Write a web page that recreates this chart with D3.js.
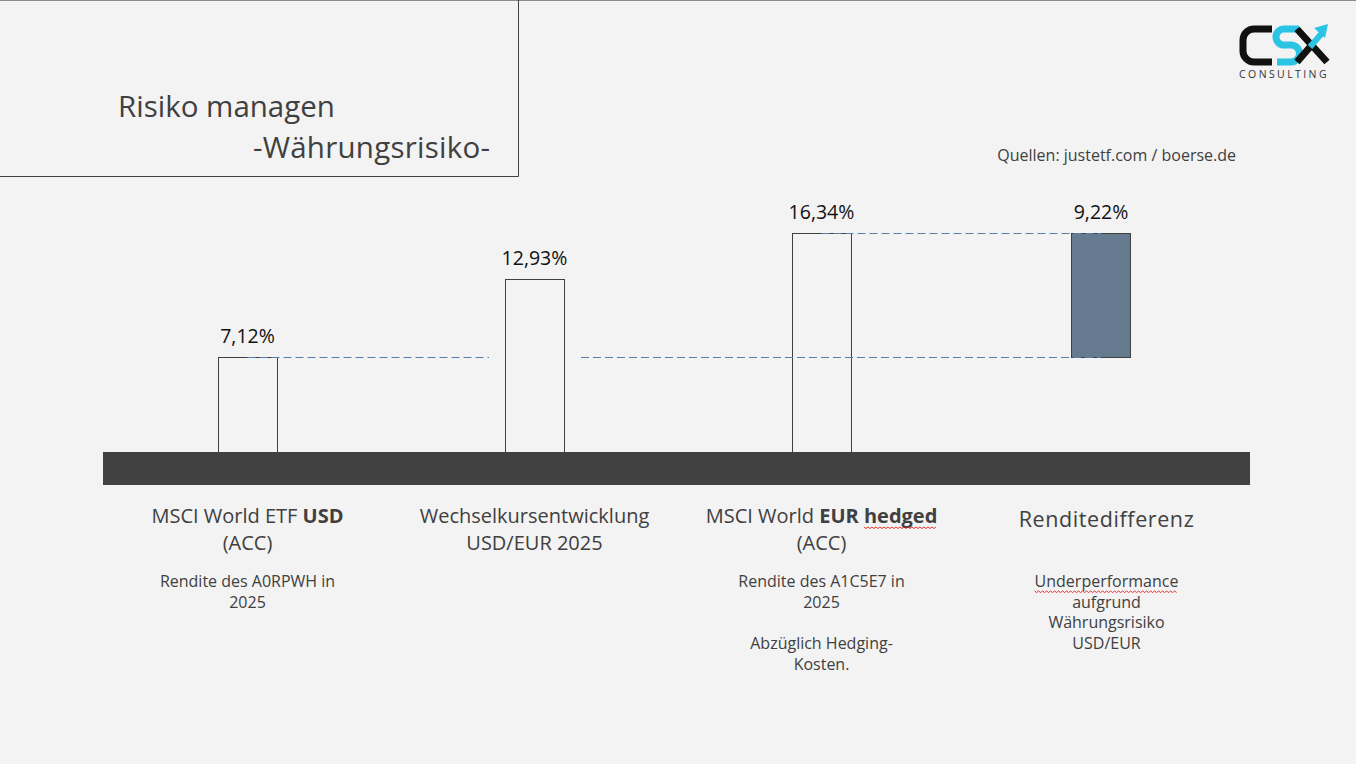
<!DOCTYPE html>
<html>
<head>
<meta charset="utf-8">
<script src="https://cdn.jsdelivr.net/npm/d3@7"></script>
<style>
  body { margin: 0; background: #f3f3f3; }
  svg { display: block; font-family: "Open Sans", "Noto Sans", sans-serif; }
</style>
</head>
<body>
<svg width="1356" height="764"></svg>
<script>
// values in percent
var categories = ["usd", "fx", "hedged", "diff"];
var values = [7.12, 12.93, 16.34];
var diffValue = 9.22;
var valueLabels = ["7,12%", "12,93%", "16,34%", "9,22%"];

// main label lines, each line a list of [text, bold]
var mainLabels = [
  [[["MSCI World ETF ", false], ["USD", true]], [["(ACC)", false]]],
  [[["Wechselkursentwicklung", false]], [["USD/EUR 2025", false]]],
  [[["MSCI World ", false], ["EUR", true], [" ", false], ["hedged", true]], [["(ACC)", false]]],
  [[["Renditedifferenz", false]]]
];
var subLabels = [
  ["Rendite des A0RPWH in", "2025"],
  [],
  ["Rendite des A1C5E7 in", "2025", "", "Abzüglich Hedging-", "Kosten."],
  ["Underperformance", "aufgrund", "Währungsrisiko", "USD/EUR"]
];
// words with spell-check squiggles [category, main(1)/sub(0), word]
var squiggles = [[2, 1, "hedged"], [3, 0, "Underperformance"]];

var svg = d3.select("svg");
var W = 1356, H = 764;

var x = d3.scaleBand().domain(categories).range([104, 1252]);
var y = d3.scaleLinear().domain([0, values[2]]).range([452, 233]);
var barW = 59;
var cx = function (c) { return x(c) + x.bandwidth() / 2; };

// top rule + title box
svg.append("line").attr("x1", 0).attr("x2", W).attr("y1", 0.5).attr("y2", 0.5)
  .attr("stroke", "#8a8a8a");
svg.append("path").attr("d", "M518.5,0V176.5H0").attr("fill", "none")
  .attr("stroke", "#404040");
svg.append("text").attr("x", 118).attr("y", 117).attr("font-size", 29.5)
  .attr("fill", "#404040").text("Risiko managen");
svg.append("text").attr("x", 253).attr("y", 158).attr("font-size", 29.5)
  .attr("letter-spacing", 0.25).attr("fill", "#404040").text("-Währungsrisiko-");

svg.append("text").attr("x", 1236).attr("y", 161).attr("text-anchor", "end")
  .attr("font-size", 16).attr("fill", "#404040").text("Quellen: justetf.com / boerse.de");

// logo
var logo = svg.append("g");
logo.append("path").attr("d", "M1272,29H1254A11,11 0 0 0 1243,40V51A11,11 0 0 0 1254,62H1272")
  .attr("fill", "none").attr("stroke", "#111").attr("stroke-width", 7);
logo.append("path").attr("d", "M1299,29H1284A8,8 0 0 0 1284,45H1291A8.5,8.5 0 0 1 1291,62H1277")
  .attr("fill", "none").attr("stroke", "#2bc4e4").attr("stroke-width", 7);
logo.append("path").attr("d", "M1297,29L1327,62M1297,62L1310,47")
  .attr("fill", "none").attr("stroke", "#111").attr("stroke-width", 7);
logo.append("path").attr("d", "M1310,47L1322,33").attr("stroke", "#2bc4e4").attr("stroke-width", 6);
logo.append("path").attr("d", "M1314,28L1328,24L1325,38Z").attr("fill", "#2bc4e4");
logo.append("text").attr("x", 1284).attr("y", 78).attr("text-anchor", "middle")
  .attr("font-size", 10.5).attr("letter-spacing", 2.4).attr("fill", "#333").text("CONSULTING");

// bars
svg.selectAll(".bar").data(values).enter().append("rect")
  .attr("class", "bar")
  .attr("x", function (d, i) { return Math.round(cx(categories[i]) - barW / 2) + 0.5; })
  .attr("y", function (d) { return Math.round(y(d)) + 0.5; })
  .attr("width", barW)
  .attr("height", function (d) { return y(0) - Math.round(y(d)); })
  .attr("fill", "#f3f3f3").attr("stroke", "#404040");

var diffX = Math.round(cx("diff") - barW / 2 - 8) + 0.5;
var diffC = diffX + barW / 2;
svg.append("rect").attr("x", diffX)
  .attr("y", Math.round(y(values[0] + diffValue)) + 0.5)
  .attr("width", barW)
  .attr("height", Math.round(y(values[0])) - Math.round(y(values[0] + diffValue)))
  .attr("fill", "#667b90").attr("stroke", "#404040");

// dashed guides (drawn over the bars)
var dash = svg.append("g").attr("stroke", "#5680aa").attr("stroke-width", 1)
  .attr("stroke-dasharray", "8,4");
dash.append("line").attr("x1", cx("usd")).attr("x2", cx("fx") - barW / 2 - 16)
  .attr("y1", Math.round(y(values[0])) + 0.5).attr("y2", Math.round(y(values[0])) + 0.5);
dash.append("line").attr("x1", cx("fx") + barW / 2 + 17).attr("x2", diffC)
  .attr("y1", Math.round(y(values[0])) + 0.5).attr("y2", Math.round(y(values[0])) + 0.5);
dash.append("line").attr("x1", cx("hedged")).attr("x2", diffC)
  .attr("y1", Math.round(y(values[2])) + 0.5).attr("y2", Math.round(y(values[2])) + 0.5);

// baseline band
svg.append("rect").attr("x", 103).attr("y", y(0)).attr("width", 1147).attr("height", 33)
  .attr("fill", "#414141");

// value labels
var tops = [values[0], values[1], values[2], values[0] + diffValue];
svg.selectAll(".val").data(valueLabels).enter().append("text")
  .attr("class", "val")
  .attr("x", function (d, i) { return i === 3 ? diffC : cx(categories[i]); })
  .attr("y", function (d, i) { return y(tops[i]) - 14; })
  .attr("text-anchor", "middle").attr("font-size", 19.5).attr("fill", "#111")
  .text(function (d) { return d; });

// category labels
var mainTexts = [];
mainLabels.forEach(function (lines, i) {
  var c = categories[i];
  var isLast = i === 3;
  var t = svg.append("text").attr("text-anchor", "middle")
    .attr("font-size", isLast ? 21.5 : 20).attr("fill", "#404040")
    .attr("letter-spacing", isLast ? 0.6 : 0);
  lines.forEach(function (segs, li) {
    segs.forEach(function (s, si) {
      var ts = t.append("tspan").attr("font-weight", s[1] ? "bold" : null).text(s[0]);
      if (si === 0) ts.attr("x", cx(c) + (isLast ? -2 : 0)).attr("y", (isLast ? 527 : 523) + li * 27);
    });
  });
  mainTexts.push(t);
});

var subTexts = [];
subLabels.forEach(function (lines, i) {
  var c = categories[i];
  var t = svg.append("text").attr("text-anchor", "middle").attr("font-size", 16)
    .attr("fill", "#404040");
  t.selectAll("tspan").data(lines).enter().append("tspan")
    .attr("x", cx(c) + (i === 3 ? -2 : 0)).attr("y", function (d, li) { return 587 + li * 20.7; })
    .text(function (d) { return d; });
  subTexts.push(t);
});

// spell-check squiggles
squiggles.forEach(function (s) {
  var t = s[1] ? mainTexts[s[0]] : subTexts[s[0]];
  var node = t.node();
  var full = node.textContent;
  var start = full.indexOf(s[2]);
  var p0 = node.getStartPositionOfChar(start);
  var p1 = node.getEndPositionOfChar(start + s[2].length - 1);
  var yy = p0.y + 4, pts = [], k = 0;
  for (var xx = p0.x; xx <= p1.x; xx += 2, k++) pts.push([xx, yy + (k % 2 ? 1.5 : 0)]);
  svg.append("path").attr("d", d3.line()(pts)).attr("fill", "none")
    .attr("stroke", "#e02020").attr("stroke-width", 0.9);
});
</script>
</body>
</html>
